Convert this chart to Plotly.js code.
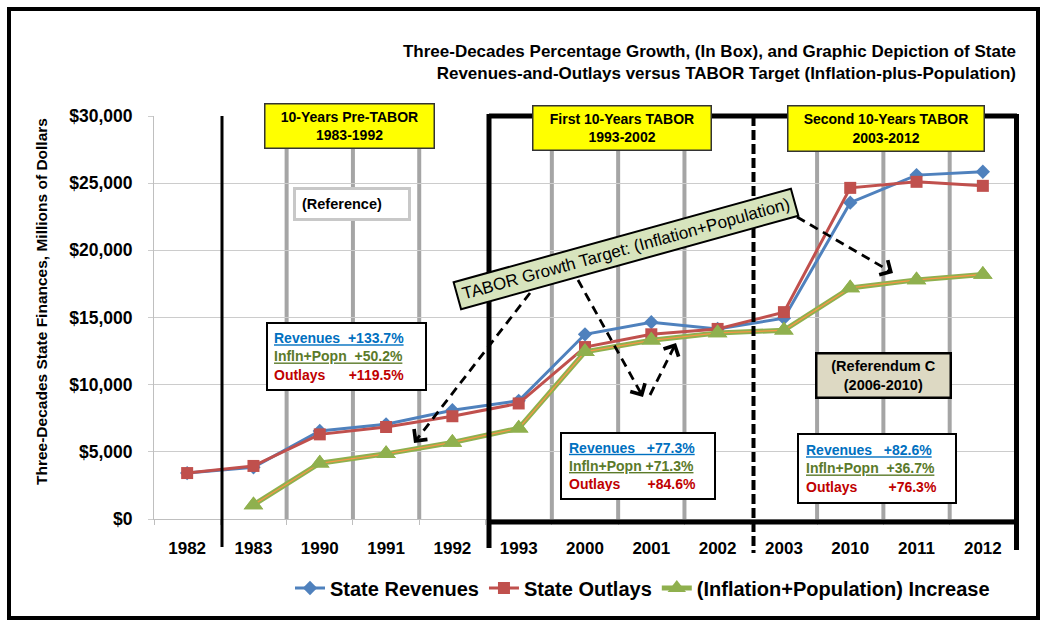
<!DOCTYPE html>
<html>
<head>
<meta charset="utf-8">
<script src="https://cdn.plot.ly/plotly-3.0.1.min.js"></script>
<style>
  html, body { margin: 0; padding: 0; background: #fff; }
  #graph { width: 1045px; height: 627px; }
</style>
</head>
<body>
<div id="graph"></div>
<script>
// chart values, millions of dollars
var years = ['1982', '1983', '1990', '1991', '1992', '1993', '2000', '2001', '2002', '2003', '2010', '2011', '2012'];
var revenues = [3420, 3850, 6550, 7050, 8100, 8800, 13750, 14650, 14150, 14950, 23550, 25600, 25850];
var outlays = [3420, 3950, 6300, 6850, 7650, 8600, 12800, 13750, 14150, 15400, 24650, 25100, 24800];
var inflPop = [null, 1050, 4150, 4850, 5700, 6750, 12450, 13300, 13850, 14050, 17200, 17800, 18200];

var yTicks = [0, 5000, 10000, 15000, 20000, 25000, 30000];
var yTickText = ['$0', '$5,000', '$10,000', '$15,000', '$20,000', '$25,000', '$30,000'];

// growth per decade, as printed in the boxes
var periods = ['1983-1992', '1993-2002', '2003-2012'];
var revGrowth = ['+133.7%', '+77.3%', '+82.6%'];
var popGrowth = ['+50.2%', '+71.3%', '+36.7%'];
var outGrowth = ['+119.5%', '+84.6%', '+76.3%'];

var FONT = '"Liberation Sans", Arial, sans-serif';

// plot area, in page pixels
var L = 154, R = 1016, T = 116, B = 519;
function px(x) { return (x - L) / (R - L); }
function py(y) { return (B - y) / (B - T); }

var data = [
  {
    x: years, y: revenues, name: 'State Revenues', mode: 'lines+markers',
    line: {color: '#4F81BD', width: 3},
    marker: {symbol: 'diamond', size: 11, color: '#4F81BD'}
  },
  {
    x: years, y: outlays, name: 'State Outlays', mode: 'lines+markers',
    line: {color: '#C0504D', width: 3},
    marker: {symbol: 'square', size: 12, color: '#C0504D'}
  },
  {
    x: years, y: inflPop, name: '(Inflation+Population) Increase', mode: 'lines+markers',
    line: {color: '#8FB04E', width: 5},
    marker: {symbol: 'triangle-up', size: 17, color: '#8FB04E'}
  },
  {
    x: years, y: inflPop, mode: 'lines', showlegend: false, hoverinfo: 'skip',
    line: {color: '#F79646', width: 1.3}
  },
  {
    x: years, y: inflPop, mode: 'markers', showlegend: false, hoverinfo: 'skip',
    marker: {symbol: 'triangle-up', size: 17, color: '#8FB04E'}
  }
];

var shapes = [];
// thick grey dividers between the years
[1, 2, 3, 5, 6, 7, 9, 10, 11].forEach(function (k) {
  shapes.push({type: 'line', layer: 'below', xref: 'x', yref: 'paper',
    x0: k + 0.5, x1: k + 0.5, y0: 0, y1: 1, line: {color: '#A5A5A5', width: 4}});
});
function blackLine(x0, y0, x1, y1, w, dash) {
  shapes.push({type: 'line', xref: 'paper', yref: 'paper',
    x0: px(x0), y0: py(y0), x1: px(x1), y1: py(y1),
    line: {color: '#000', width: w, dash: dash || 'solid'}});
}
blackLine(222, 116, 222, 547, 3);
blackLine(489, 116, 1017, 116, 5);
blackLine(489, 114, 489, 548, 5);
blackLine(1016.5, 114, 1016.5, 550, 5);
blackLine(489, 522, 1017, 522, 5);
blackLine(753.5, 116, 753.5, 553, 4, '10px,4px');
// outer frame
shapes.push({type: 'rect', xref: 'paper', yref: 'paper',
  x0: px(9), x1: px(1038), y0: py(9), y1: py(618), line: {color: '#000', width: 4}});

var annotations = [];
function box(cx, cy, w, h, text, o) {
  var pad = o.pad == null ? 2 : o.pad, bw = o.bw == null ? 2 : o.bw;
  annotations.push({
    xref: 'paper', yref: 'paper', x: px(cx), y: py(cy), xanchor: 'center', yanchor: 'middle',
    showarrow: false, text: text, align: o.align || 'center', valign: 'middle',
    width: w - 2 * (pad + bw), height: h - 2 * (pad + bw), borderpad: pad,
    borderwidth: bw, bordercolor: o.border || '#000', bgcolor: o.bg || '#fff',
    textangle: o.angle || 0,
    font: {family: FONT, size: o.size || 14, color: '#000', weight: o.weight || 'bold'}
  });
}
function arrow(x0, y0, x1, y1) {
  var dx = x0 - x1, dy = y0 - y1, len = Math.sqrt(dx * dx + dy * dy);
  shapes.push({type: 'line', xref: 'paper', yref: 'paper',
    x0: px(x0), y0: py(y0), x1: px(x1 + dx / len * 3), y1: py(y1 + dy / len * 3),
    line: {color: '#000', width: 2.8, dash: '9px,6px'}});
  annotations.push({xref: 'paper', yref: 'paper', x: px(x1), y: py(y1), text: '',
    showarrow: true, arrowhead: 4, arrowsize: 1.3, arrowwidth: 2.5, arrowcolor: '#000',
    axref: 'pixel', ayref: 'pixel', ax: dx / len * 8, ay: dy / len * 8, standoff: 0});
}
function nb(n) { return new Array(n + 1).join('\u00a0'); }
function stats(i, g1, g2, g3) {
  return '<span style="color:#0070C0"><u>Revenues' + nb(g1) + revGrowth[i] + '</u></span><br>' +
    '<span style="color:#5B7A2A"><u>Infln+Popn' + nb(g2) + popGrowth[i] + '</u></span><br>' +
    '<span style="color:#C00000">Outlays' + nb(g3) + outGrowth[i] + '</span>';
}

// y-axis title
annotations.push({xref: 'paper', yref: 'paper', x: px(41), y: py(302), xanchor: 'center', yanchor: 'middle',
  showarrow: false, textangle: -90, text: 'Three-Decades State Finances, Millions of Dollars',
  font: {family: FONT, size: 15.5, color: '#000', weight: 'bold'}});

// period boxes
box(349.5, 126, 171, 46, '10-Years Pre-TABOR<br>' + periods[0], {bg: '#FFFF00', bw: 1.5, border: '#333'});
box(622, 128, 180, 46, 'First 10-Years TABOR<br>' + periods[1], {bg: '#FFFF00', bw: 1.5, border: '#333'});
box(886, 128.5, 198, 47, 'Second 10-Years TABOR<br>' + periods[2], {bg: '#FFFF00', bw: 1.5, border: '#333'});

box(352, 203.5, 118, 34, '(Reference)', {align: 'left', bw: 3, border: '#C8C8C8', size: 14.5, pad: 6});

box(346.5, 356, 161, 69, stats(0, 2, 2, 6), {align: 'left', pad: 6});
box(638, 466, 156, 68, stats(1, 3, 1, 7), {align: 'left', pad: 7});
box(877, 468.5, 160, 71, stats(2, 3, 2, 8), {align: 'left', pad: 7});

box(883, 375.5, 137, 47, '(Referendum C<br>(2006-2010)', {bg: '#DDD9C3', bw: 2.5, size: 14.5});

arrow(530, 293, 414, 443);
arrow(578, 280, 643, 397);
arrow(650, 395, 676, 343);
arrow(797, 217, 893, 273);

box(626, 249, 352, 30, 'TABOR Growth Target: (Inflation+Population)',
  {bg: '#D7E4BD', bw: 2, angle: -15.5, size: 17, weight: 'normal'});

var layout = {
  width: 1045, height: 627,
  margin: {l: L, r: 1045 - R, t: T, b: 627 - B, pad: 0},
  paper_bgcolor: '#fff', plot_bgcolor: '#fff',
  font: {family: FONT, color: '#000'},
  title: {
    text: 'Three-Decades Percentage Growth, (In Box), and Graphic Depiction of State<br>Revenues-and-Outlays versus TABOR Target (Inflation-plus-Population)',
    font: {family: FONT, size: 17, color: '#000', weight: 'bold'},
    x: 1, xref: 'paper', xanchor: 'right', y: 1 - 57 / 627, yref: 'container', yanchor: 'middle'
  },
  showlegend: true,
  legend: {
    orientation: 'h', x: px(290), xanchor: 'left', y: py(588), yanchor: 'middle',
    font: {family: FONT, size: 20, color: '#000', weight: 'bold'},
    itemwidth: 30, traceorder: 'normal'
  },
  xaxis: {
    type: 'category', range: [-0.5, 12.5], tickson: 'boundaries',
    showgrid: false, showline: true, linecolor: '#BFBFBF', linewidth: 1,
    ticks: 'outside', ticklen: 5, tickcolor: '#BFBFBF',
    tickfont: {family: FONT, size: 17, color: '#000', weight: 'bold'},
    ticklabelstandoff: 14, zeroline: false, fixedrange: true
  },
  yaxis: {
    range: [0, 30000], tickvals: yTicks, ticktext: yTickText,
    showgrid: true, gridcolor: '#CCCCCC', gridwidth: 1,
    showline: true, linecolor: '#BFBFBF', linewidth: 1,
    ticks: 'outside', ticklen: 5, tickcolor: '#CCCCCC',
    tickfont: {family: FONT, size: 17.5, color: '#000', weight: 'bold'},
    ticklabelstandoff: 12, zeroline: false, fixedrange: true
  },
  shapes: shapes,
  annotations: annotations
};

Plotly.newPlot('graph', data, layout, {displayModeBar: false, staticPlot: true});
</script>
</body>
</html>
